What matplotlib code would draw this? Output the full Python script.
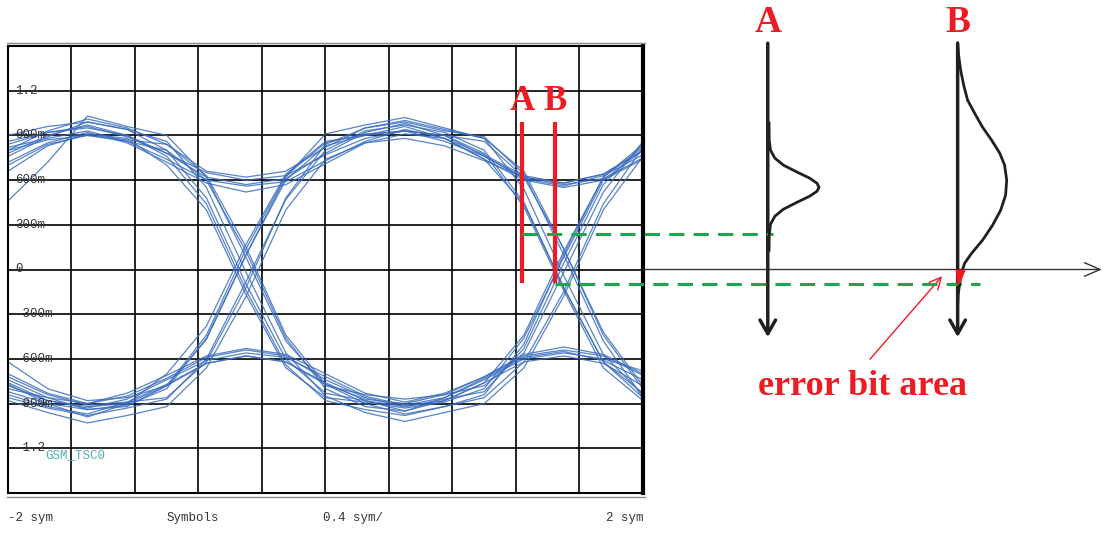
import matplotlib
matplotlib.use("Agg")
import matplotlib.pyplot as plt
from matplotlib.lines import Line2D

W, H = 1105, 533

# sample instants of the captured traces (sym)
t = [-2.0, -1.75, -1.5, -1.25, -1.0, -0.75, -0.5, -0.25, 0.0,
     0.25, 0.5, 0.75, 1.0, 1.25, 1.5, 1.75, 2.0]

# eye diagram traces (V), one list per sweep
traces = [
    [0.78, 0.90, 0.97, 0.90, 0.78, 0.62, 0.57, 0.61, 0.78, 0.92, 0.98, 0.90, 0.76, 0.61, 0.56, 0.63, 0.77],
    [0.72, 0.85, 0.92, 0.85, 0.72, 0.58, 0.52, 0.57, 0.71, 0.85, 0.91, 0.88, 0.74, 0.44, -0.12, -0.62, -0.86],
    [0.76, 0.89, 0.99, 0.94, 0.80, 0.48, -0.10, -0.60, -0.83, -0.88, -0.92, -0.87, -0.82, -0.53, 0.04, 0.57, 0.84],
    [0.70, 0.84, 0.90, 0.86, 0.80, 0.60, 0.12, -0.46, -0.80, -0.92, -0.95, -0.86, -0.73, -0.59, -0.55, -0.61, -0.74],
    [-0.82, -0.90, -0.94, -0.91, -0.80, -0.46, 0.10, 0.60, 0.83, 0.90, 0.96, 0.88, 0.74, 0.60, 0.55, 0.60, 0.74],
    [-0.86, -0.93, -0.98, -0.93, -0.87, -0.60, -0.08, 0.47, 0.80, 0.93, 0.97, 0.92, 0.80, 0.45, -0.12, -0.62, -0.83],
    [-0.80, -0.86, -0.90, -0.85, -0.73, -0.59, -0.54, -0.58, -0.74, -0.86, -0.92, -0.88, -0.76, -0.44, 0.12, 0.62, 0.82],
    [-0.84, -0.92, -0.97, -0.89, -0.77, -0.63, -0.58, -0.62, -0.76, -0.88, -0.95, -0.88, -0.76, -0.62, -0.58, -0.63, -0.78],
    [0.82, 0.88, 0.93, 0.86, 0.74, 0.60, 0.56, 0.59, 0.73, 0.86, 0.94, 0.88, 0.77, 0.63, 0.58, 0.64, 0.80],
    [0.84, 0.92, 0.96, 0.89, 0.78, 0.65, 0.60, 0.63, 0.77, 0.88, 0.93, 0.90, 0.86, 0.62, 0.14, -0.44, -0.80],
    [0.86, 0.92, 0.95, 0.90, 0.76, 0.44, -0.14, -0.64, -0.88, -0.94, -0.98, -0.92, -0.86, -0.62, -0.15, 0.44, 0.82],
    [0.80, 0.87, 0.90, 0.87, 0.84, 0.63, 0.15, -0.44, -0.77, -0.87, -0.90, -0.84, -0.72, -0.58, -0.54, -0.58, -0.71],
    [-0.74, -0.86, -0.94, -0.92, -0.78, -0.44, 0.14, 0.63, 0.85, 0.91, 0.93, 0.86, 0.76, 0.62, 0.57, 0.61, 0.75],
    [-0.72, -0.84, -0.91, -0.89, -0.86, -0.62, -0.12, 0.48, 0.84, 0.95, 0.99, 0.93, 0.89, 0.64, 0.10, -0.48, -0.86],
    [-0.77, -0.90, -0.99, -0.90, -0.78, -0.63, -0.58, -0.62, -0.77, -0.90, -0.97, -0.92, -0.84, -0.50, 0.10, 0.62, 0.84],
    [-0.70, -0.83, -0.90, -0.83, -0.71, -0.58, -0.53, -0.57, -0.70, -0.83, -0.89, -0.83, -0.72, -0.57, -0.52, -0.57, -0.70],
    [0.46, 0.72, 1.03, 0.96, 0.90, 0.62, 0.08, -0.48, -0.78, -0.84, -0.87, -0.84, -0.78, -0.56, -0.02, 0.52, 0.86],
    [-0.62, -0.80, -0.88, -0.86, -0.78, -0.47, 0.10, 0.62, 0.91, 0.97, 1.02, 0.95, 0.88, 0.66, 0.14, -0.42, -0.78],
    [-0.88, -0.96, -1.03, -0.98, -0.92, -0.66, -0.18, 0.40, 0.74, 0.85, 0.88, 0.83, 0.73, 0.62, 0.58, 0.64, 0.80],
    [0.90, 0.96, 0.99, 0.94, 0.86, 0.55, -0.02, -0.56, -0.85, -0.96, -1.02, -0.96, -0.90, -0.66, -0.18, 0.40, 0.76],
    [0.80, 0.93, 1.01, 0.95, 0.84, 0.66, 0.62, 0.66, 0.82, 0.95, 1.00, 0.94, 0.88, 0.54, -0.04, -0.57, -0.84],
    [-0.78, -0.88, -0.93, -0.87, -0.74, -0.61, -0.56, -0.59, -0.72, -0.85, -0.91, -0.86, -0.74, -0.60, -0.56, -0.60, -0.68],
    [0.66, 0.83, 0.91, 0.88, 0.70, 0.40, -0.17, -0.66, -0.86, -0.89, -0.93, -0.89, -0.80, -0.46, 0.08, 0.60, 0.80],
    [-0.76, -0.88, -0.92, -0.90, -0.70, -0.38, 0.17, 0.64, 0.86, 0.90, 0.93, 0.90, 0.78, 0.42, -0.14, -0.66, -0.88],
]

ytick_vals = [1.2, 0.9, 0.6, 0.3, 0, -0.3, -0.6, -0.9, -1.2]
ytick_text = ["1.2", "900m", "600m", "300m", "0", "-300m", "-600m", "-900m", "-1.2"]
xgrid = [-2.0, -1.6, -1.2, -0.8, -0.4, 0.0, 0.4, 0.8, 1.2, 1.6, 2.0]
ygrid = [-1.5, -1.2, -0.9, -0.6, -0.3, 0.0, 0.3, 0.6, 0.9, 1.2, 1.5]

# sampling cursors and the levels they read
cursor_x = {"A": 1.236, "B": 1.446}
cursor_level = {"A": 0.237, "B": -0.099}
axis_x = {"A": 2.786, "B": 3.982}

# amplitude distributions at the two cursors (level V, width sym)
pdf_A_level = [0.983, 0.868, 0.801, 0.747, 0.700, 0.653, 0.613, 0.579, 0.552,
               0.525, 0.492, 0.452, 0.405, 0.358, 0.304, 0.230, 0.129]
pdf_A_width = [0.0, 0.001, 0.009, 0.037, 0.091, 0.178, 0.256, 0.302, 0.315,
               0.302, 0.256, 0.178, 0.091, 0.037, 0.009, 0.001, 0.0]
pdf_B_level = [1.519, 1.438, 1.338, 1.237, 1.136, 1.049, 0.955, 0.868, 0.781, 0.700, 0.599,
               0.499, 0.398, 0.297, 0.197, 0.109, 0.042, -0.018, -0.092, -0.172, -0.240]
pdf_B_width = [0.0, 0.006, 0.019, 0.038, 0.063, 0.107, 0.157, 0.214, 0.265, 0.296, 0.309,
               0.302, 0.271, 0.220, 0.157, 0.088, 0.044, 0.025, 0.013, 0.003, 0.0]

RED = "#ed1c24"
GREEN = "#1fa64a"
BLUE = "#3a6dbf"
INK = "#231f20"
MONO = dict(family="Liberation Mono", fontsize=9, color="#333333")

fig = plt.figure(figsize=(W / 100, H / 100), dpi=100)
ax = fig.add_axes([8 / W, 40 / H, 635 / W, 447 / H])
ax.set_xlim(-2, 2)
ax.set_ylim(-1.5, 1.5)
ax.set_xticks(xgrid)
ax.set_yticks(ygrid)
ax.tick_params(length=0, labelbottom=False, labelleft=False)
ax.grid(True, color="black", lw=1.2, zorder=0)
ax.set_axisbelow(True)
for s in ax.spines.values():
    s.set_linewidth(1.5)
ax.spines["right"].set_linewidth(3)

for tr in traces:
    ax.plot(t, tr, color=BLUE, lw=0.9, alpha=0.85, zorder=2)

# level labels written inside the screen
for v, s in zip(ytick_vals, ytick_text):
    ax.text(-1.956, v, s, ha="left", va="center", zorder=3, **MONO)
ax.text(-1.767, -1.246, "GSM_TSC0", ha="left", va="center", family="Liberation Mono",
        fontsize=9, color="#4ab3b3", zorder=3)

# double frame lines of the scope screen
for ypx in (42.5, 497.0):
    fig.add_artist(Line2D([7 / W, 645 / W], [1 - ypx / H] * 2, color="#8a8a8a", lw=1))

bottom_y = 1 - 518 / H
fig.text(8 / W, bottom_y, "-2 sym", ha="left", va="center", **MONO)
fig.text(193 / W, bottom_y, "Symbols", ha="center", va="center", **MONO)
fig.text(323 / W, bottom_y, "0.4 sym/", ha="left", va="center", **MONO)
fig.text(643 / W, bottom_y, "2 sym", ha="right", va="center", **MONO)

serif = dict(family="Liberation Serif", fontweight="bold", color=RED)

# cursors A and B on the eye
for k in ("A", "B"):
    ax.plot([cursor_x[k], cursor_x[k]], [0.989, -0.092], color=RED, lw=3, zorder=5, solid_capstyle="butt")
    ax.text(cursor_x[k], 1.069, k, ha="center", va="baseline", fontsize=25, zorder=6, **serif)

# levels carried to the right
ax.plot([cursor_x["A"], 2.819], [cursor_level["A"]] * 2, color=GREEN, lw=2.2,
        dashes=(5, 3), zorder=6, clip_on=False)
ax.plot([cursor_x["B"], 4.123], [cursor_level["B"]] * 2, color=GREEN, lw=2.2,
        dashes=(5, 3), zorder=6, clip_on=False)

# horizontal zero axis
ax.annotate("", xy=(4.89, 0.0), xytext=(2.0, 0.0), annotation_clip=False,
            arrowprops=dict(arrowstyle="->,head_length=0.8,head_width=0.35", lw=1,
                            color="#333333", shrinkA=0, shrinkB=0, mutation_scale=14))

# vertical distribution axes
for k in ("A", "B"):
    ax.annotate("", xy=(axis_x[k], -0.454), xytext=(axis_x[k], 1.519), annotation_clip=False,
                arrowprops=dict(arrowstyle="->,head_length=0.7,head_width=0.4", lw=2.5,
                                color=INK, shrinkA=0, shrinkB=0, mutation_scale=14))
    ax.text(axis_x[k], 1.595, k, ha="center", va="baseline", fontsize=27, clip_on=False, **serif)

ax.plot([axis_x["A"] + 0.008 + w for w in pdf_A_width], pdf_A_level, color=INK, lw=2,
        clip_on=False, zorder=7)
ax.plot([axis_x["B"] + w for w in pdf_B_width], pdf_B_level, color=INK, lw=2,
        clip_on=False, zorder=7)

# error bit area under curve B
ax.fill([axis_x["B"] - 0.012, axis_x["B"] + 0.052, axis_x["B"] + 0.014, axis_x["B"] - 0.004],
        [0.0, 0.0, -0.099, -0.099], color=RED, lw=0, zorder=8, clip_on=False)

ax.annotate("", xy=(3.884, -0.045), xytext=(3.430, -0.602), annotation_clip=False,
            arrowprops=dict(arrowstyle="->,head_length=0.7,head_width=0.35", lw=1,
                            color=RED, shrinkA=0, shrinkB=0, mutation_scale=12))
ax.text(3.380, -0.844, "error bit area", ha="center", va="baseline", fontsize=26,
        clip_on=False, **serif)

fig.savefig("out.png", dpi=100)
